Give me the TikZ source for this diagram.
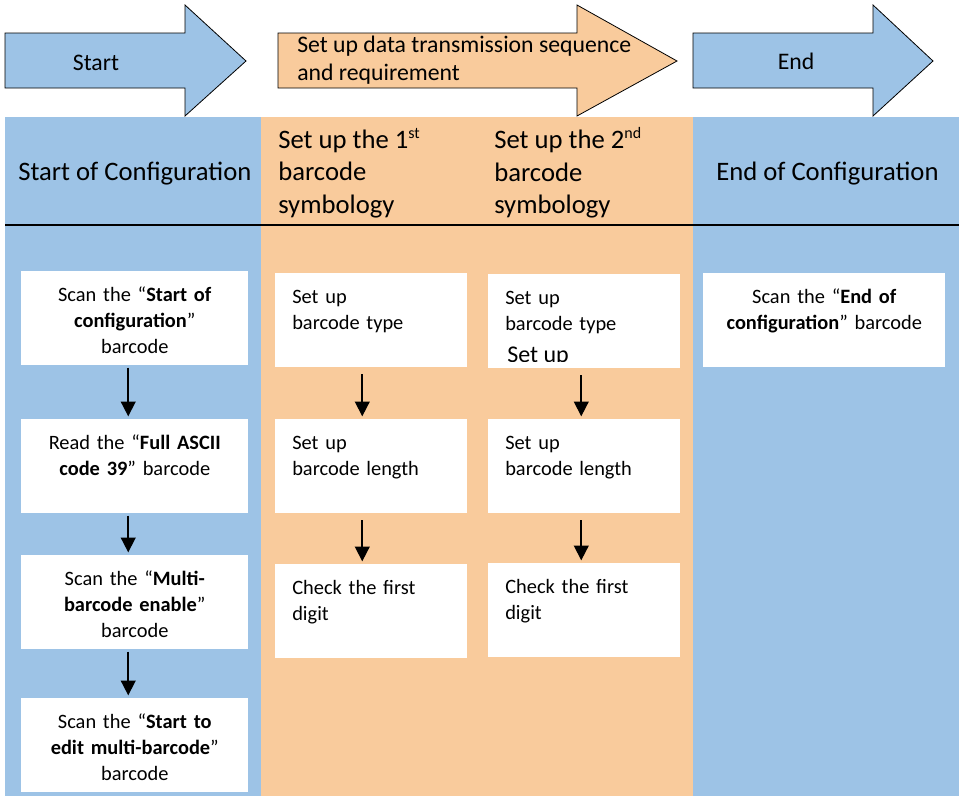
\documentclass[tikz,border=0pt]{standalone}
\usepackage{fontspec}
\setmainfont{Carlito}
\usetikzlibrary{positioning,arrows.meta}

\definecolor{cfgblue}{HTML}{9DC3E6}
\definecolor{cfgorange}{HTML}{F9CB9C}

\begin{document}
\begin{tikzpicture}[x=0.75pt, y=-0.75pt,
    cell/.style={fill=white, anchor=north west, inner ysep=12pt,
      text height=10.5pt, text depth=36pt, font=\fontsize{15.3}{19.5}\selectfont},
    scanbox/.style={cell, inner xsep=4.5pt, text width=161.25pt, align=center},
    endbox/.style={cell, inner xsep=4.5pt, text width=172.5pt, align=center},
    setbox/.style={cell, inner xsep=12.75pt, text width=118.5pt, align=left},
    head/.style={anchor=west, inner sep=0pt, align=left, font=\fontsize{20}{24.4}\selectfont},
    banner/.style={draw=black, line width=0.6pt, line join=miter},
    flow/.style={-{Triangle[length=11pt,width=11pt]}, line width=1.3pt}]

  \useasboundingbox (0,0) rectangle (959,796);

  % Banner arrows
  \draw[banner, fill=cfgblue] (5,33) -- (185,33) -- (185,5) -- (246,61) -- (185,116) -- (185,88) -- (5,88) -- cycle;
  \draw[banner, fill=cfgorange] (278,33) -- (577,33) -- (577,5) -- (677,61) -- (577,116) -- (577,88) -- (278,88) -- cycle;
  \draw[banner, fill=cfgblue] (693,33) -- (873,33) -- (873,5) -- (933,61) -- (873,116) -- (873,88) -- (693,88) -- cycle;
  \node[font=\fontsize{17.8}{21}\selectfont] (start) at (96,63) {Start};
  \node[anchor=west, inner sep=0pt, align=left, font=\fontsize{17.8}{21}\selectfont] (seq) at (297,60)
    {Set up data transmission sequence\\and requirement};
  \node[font=\fontsize{17.8}{21}\selectfont] (end) at (796,61) {End};

  % Column backgrounds
  \fill[cfgblue] (5,117) rectangle (261,796);
  \fill[cfgorange] (261,117) rectangle (693,796);
  \fill[cfgblue] (693,117) rectangle (959,796);
  \draw[line width=1.5pt] (5,225) -- (959,225);

  % Column headers
  \node[head] (hstart) at (18,174) {Start of Configuration};
  \node[head] (hfirst) at (278,173) {Set up the 1\textsuperscript{\fontsize{12}{12}\selectfont st}\\barcode\\symbology};
  \node[head] (hsecond) at (494,173) {Set up the 2\textsuperscript{\fontsize{12}{12}\selectfont nd}\\barcode\\symbology};
  \node[head] (hend) at (716,174) {End of Configuration};

  % Start of configuration steps
  \node[scanbox] (c1a) at (21,271) {Scan the “\textbf{Start of}\\\textbf{configuration}”\\barcode};
  \node[scanbox] (c1b) at (21,419) {Read the “\textbf{Full ASCII}\\\textbf{code 39}” barcode};
  \node[scanbox] (c1c) at (21,555) {Scan the “\textbf{Multi-}\\\textbf{barcode enable}”\\barcode};
  \node[scanbox] (c1d) at (21,698) {Scan the “\textbf{Start to}\\\textbf{edit multi-barcode}”\\barcode};

  % First symbology steps
  \node[setbox] (c2a) at (275,273) {Set up\\barcode type};
  \node[setbox] (c2b) at (275,419) {Set up\\barcode length};
  \node[setbox] (c2c) at (275,564) {Check the first\\digit};

  % Second symbology steps
  \node[setbox] (c3a) at (488,274) {Set up\\barcode type};
  \begin{scope}
    \clip (c3a.north west) rectangle ([yshift=5.25pt]c3a.south east);
    \node[anchor=base west, inner sep=0pt, font=\fontsize{18}{22}\selectfont] (c3x) at (507,362) {Set up};
  \end{scope}
  \node[setbox] (c3b) at (488,419) {Set up\\barcode length};
  \node[setbox] (c3c) at (488,563) {Check the first\\digit};

  % End of configuration step
  \node[endbox] (c4a) at (703,273) {Scan the “\textbf{End of}\\\textbf{configuration}” barcode};

  % Arrows between steps
  \path[flow, shorten <=1.5pt, shorten >=2pt]
    ([xshift=-4.9pt]c1a.south) edge ([xshift=-4.9pt]c1b.north)
    ([xshift=-4.9pt]c1b.south) edge ([xshift=-4.9pt]c1c.north)
    ([xshift=-4.9pt]c1c.south) edge ([xshift=-4.9pt]c1d.north);
  \path[flow, shorten <=5pt, shorten >=2pt]
    ([xshift=-6.75pt]c2a.south) edge ([xshift=-6.75pt]c2b.north)
    ([xshift=-6.75pt]c2b.south) edge ([xshift=-6.75pt]c2c.north)
    ([xshift=-2.25pt]c3a.south) edge ([xshift=-2.25pt]c3b.north)
    ([xshift=-2.25pt]c3b.south) edge ([xshift=-2.25pt]c3c.north);

\end{tikzpicture}
\end{document}
